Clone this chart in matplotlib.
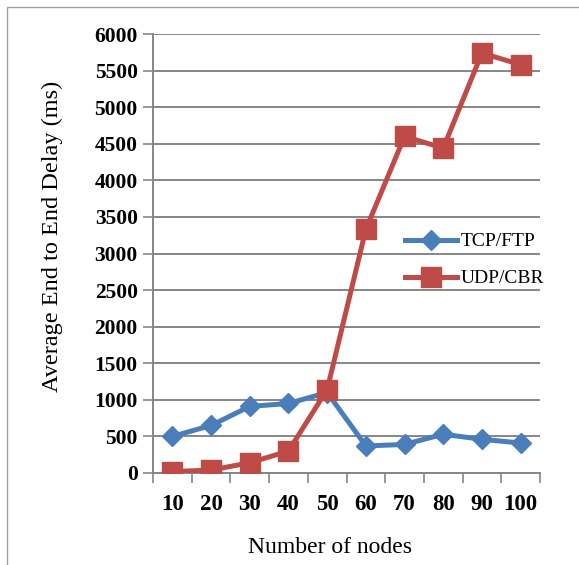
import matplotlib
matplotlib.use("Agg")
import matplotlib.pyplot as plt
from matplotlib.patches import Rectangle
import numpy as np

categories = ["10", "20", "30", "40", "50", "60", "70", "80", "90", "100"]
tcp_ftp = [500, 650, 910, 950, 1100, 370, 390, 530, 460, 410]
udp_cbr = [20, 40, 140, 300, 1140, 3330, 4600, 4440, 5740, 5580]
yticks = [0, 500, 1000, 1500, 2000, 2500, 3000, 3500, 4000, 4500, 5000, 5500, 6000]

serif = ["Liberation Serif", "DejaVu Serif"]
fig = plt.figure(figsize=(5.79, 5.65), dpi=100)
fig.patches.append(Rectangle((7/579, -0.01), 1.0, 1 - 7/565 + 0.01, transform=fig.transFigure,
                             fill=False, edgecolor="#A0A0A0", linewidth=1.0))
ax = fig.add_axes([153/579, 1 - 473/565, 387/579, 439/565])

x = np.arange(len(categories))
blue = "#4A7EBB"
red = "#BE4B48"
ax.plot(x, tcp_ftp, color=blue, lw=3.6, marker="D", markersize=10, label="TCP/FTP", zorder=3)
ax.plot(x, udp_cbr, color=red, lw=3.6, marker="s", markersize=14, label="UDP/CBR", zorder=4)

ax.set_xlim(-0.5, len(categories) - 0.5)
ax.set_ylim(0, 6000)
ax.set_yticks(yticks)
ax.set_yticklabels([str(v) for v in yticks], fontfamily=serif, fontweight="bold", fontsize=15.5)
ax.set_xticks(x)
ax.set_xticklabels(categories, fontfamily=serif, fontweight="bold", fontsize=16.5)
ax.set_xticks(np.arange(-0.5, len(categories)), minor=True)
ax.tick_params(axis="x", which="major", length=0, pad=15)
ax.tick_params(axis="x", which="minor", length=7, color="#868686", width=1.2, direction="out")
ax.tick_params(axis="y", length=7, color="#868686", width=1.2, pad=4)

ax.grid(axis="y", color="#868686", lw=1.4)
ax.set_axisbelow(True)
for s in ["top", "right"]:
    ax.spines[s].set_visible(False)
for s in ["left", "bottom"]:
    ax.spines[s].set_color("#868686")
    ax.spines[s].set_linewidth(1.4)

ax.set_ylabel("Average End to End Delay (ms)", fontfamily=serif, fontsize=17.5)
ax.yaxis.set_label_coords(-0.233, 0.54)
ax.set_xlabel("Number of nodes", fontfamily=serif, fontsize=17)
ax.xaxis.set_label_coords(0.457, -0.146)

leg = ax.legend(loc="upper left", bbox_to_anchor=(0.63, 0.565), frameon=False,
                prop={"family": serif, "size": 14}, handlelength=2.7, handletextpad=0.2,
                labelspacing=1.0, borderaxespad=0)

fig.savefig("out.png", dpi=100)
